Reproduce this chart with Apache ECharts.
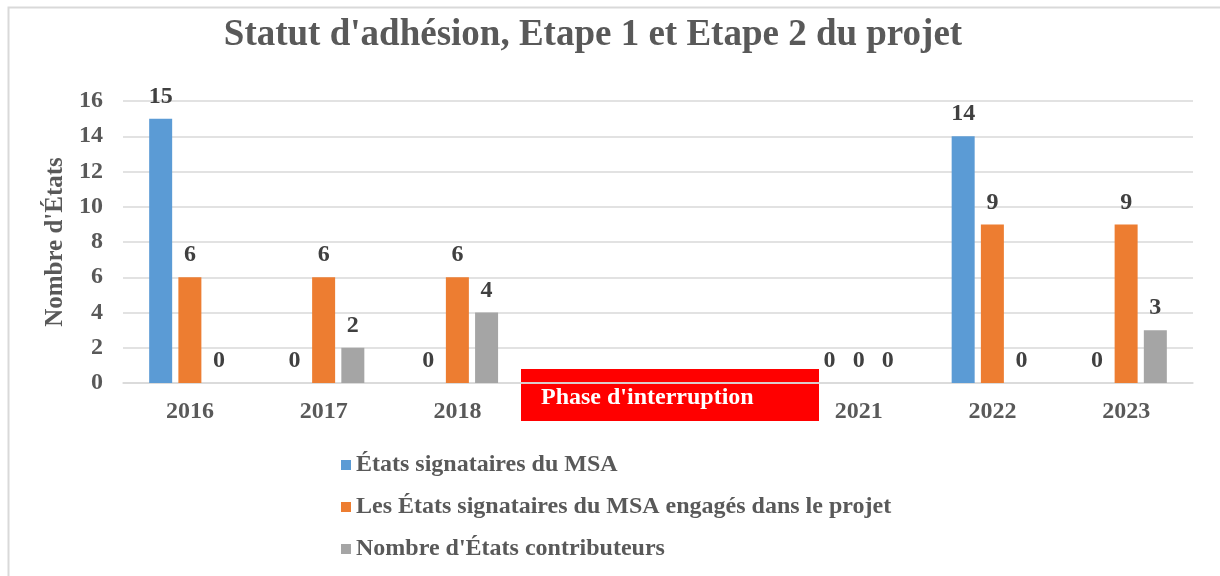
<!DOCTYPE html>
<html>
<head>
<meta charset="utf-8">
<script src="https://cdn.jsdelivr.net/npm/echarts@6/dist/echarts.min.js"></script>
<style>
  html, body { margin: 0; padding: 0; background: #fff; }
  #chart { width: 1220px; height: 576px; }
</style>
</head>
<body>
<div id="chart"></div>
<script>
// années (2019 et 2020 masquées par la "Phase d'interruption")
const years = ["2016", "2017", "2018", "2019", "2020", "2021", "2022", "2023"];
const signataires = [15, 0, 0, null, null, 0, 14, 0];
const engages = [6, 6, 6, null, null, 0, 9, 9];
const contributeurs = [0, 2, 4, null, null, 0, 0, 3];
const hiddenYears = ["2019", "2020"];

const font = "'Liberation Serif', 'Times New Roman', serif";

const chart = echarts.init(document.getElementById("chart"));

let dataLabel = {
  show: true,
  position: "top",
  distance: 10,
  fontFamily: font,
  fontWeight: "bold",
  fontSize: 24,
  color: "#404040",
};

function barSeries(name, data, color) {
  return {
    name: name,
    type: "bar",
    data: data,
    barWidth: 23,
    barGap: "27%",
    itemStyle: { color: color },
    label: dataLabel,
  };
}

chart.setOption({
  animation: false,
  textStyle: { fontFamily: font },
  title: {
    text: "Statut d'adhésion, Etape 1 et Etape 2 du projet",
    left: 588,
    textAlign: "center",
    top: 12,
    textStyle: {
      fontFamily: font,
      fontWeight: "bold",
      fontSize: 37,
      color: "#595959",
    },
  },
  grid: { left: 123, right: 27, top: 101, bottom: 193 },
  legend: {
    orient: "vertical",
    left: 336,
    top: 448,
    itemWidth: 10,
    itemHeight: 10,
    itemGap: 18,
    icon: "rect",
    textStyle: {
      fontFamily: font,
      fontWeight: "bold",
      fontSize: 24,
      color: "#595959",
    },
  },
  xAxis: {
    type: "category",
    data: years,
    axisLine: { lineStyle: { color: "#d9d9d9", width: 1.5 } },
    axisTick: { show: false },
    axisLabel: {
      margin: 17,
      fontFamily: font,
      fontWeight: "bold",
      fontSize: 24,
      color: "#595959",
      // 2019 et 2020 sont sous le bandeau rouge
      formatter: function (v) {
        return hiddenYears.indexOf(v) >= 0 ? "" : v;
      },
    },
  },
  yAxis: {
    type: "value",
    min: 0,
    max: 16,
    interval: 2,
    name: "Nombre d'États",
    nameLocation: "middle",
    nameRotate: 90,
    nameGap: 55,
    nameTextStyle: {
      fontFamily: font,
      fontWeight: "bold",
      fontSize: 25,
      color: "#595959",
    },
    axisLine: { show: false },
    axisTick: { show: false },
    axisLabel: {
      margin: 20,
      fontFamily: font,
      fontWeight: "bold",
      fontSize: 24,
      color: "#595959",
    },
    splitLine: { lineStyle: { color: "#d9d9d9", width: 1.5 } },
  },
  series: [
    barSeries("États signataires du MSA", signataires, "#5b9bd5"),
    barSeries("Les États signataires du MSA engagés dans le projet", engages, "#ed7d31"),
    barSeries("Nombre d'États contributeurs", contributeurs, "#a5a5a5"),
  ],
  graphic: [
    {
      type: "rect",
      left: 6,
      top: 5,
      shape: { width: 1240, height: 600 },
      style: { fill: "none", stroke: "#d9d9d9", lineWidth: 2 },
      silent: true,
    },
    {
      type: "group",
      left: 521,
      top: 369,
      z: 100,
      children: [
        {
          type: "rect",
          shape: { width: 298, height: 52 },
          style: { fill: "#ff0000" },
        },
        {
          type: "text",
          x: 20,
          y: 29,
          style: {
            text: "Phase d'interruption",
            fill: "#ffffff",
            font: "bold 24px " + font,
            verticalAlign: "middle",
          },
        },
      ],
    },
  ],
});
</script>
</body>
</html>
